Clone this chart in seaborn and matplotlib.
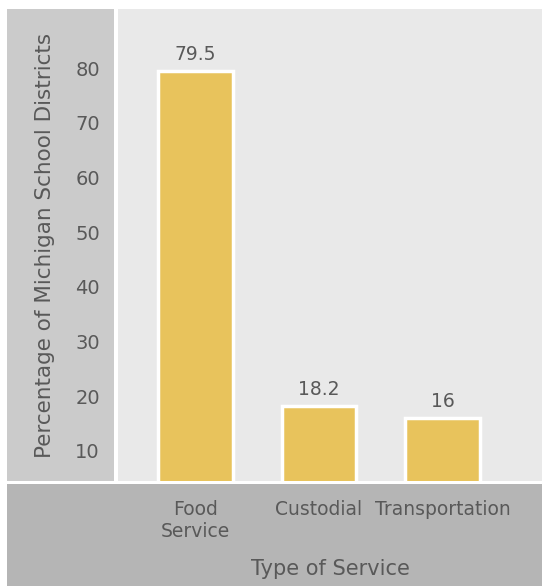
import matplotlib
matplotlib.use("Agg")
import matplotlib.pyplot as plt
from matplotlib.patches import Rectangle
import seaborn as sns
import pandas as pd

# chart data
services = ["Food\nService", "Custodial", "Transportation"]
percentages = [79.5, 18.2, 16]
value_labels = ["79.5", "18.2", "16"]
y_ticks = [10, 20, 30, 40, 50, 60, 70, 80]

df = pd.DataFrame({"service": services, "pct": percentages})

W, H = 542, 586
text_color = "#595959"
plt.rcParams["font.family"] = ["DejaVu Sans"]

fig = plt.figure(figsize=(W / 100, H / 100), dpi=100)


def box(x0, y0, x1, y1):
    # pixel box (top-left origin) -> figure fraction
    return [x0 / W, 1 - y1 / H, (x1 - x0) / W, (y1 - y0) / H]


# gray panels behind the axis labels
for (x0, y0, x1, y1), col in [((7, 9, 114, 481), "#cbcbcb"),
                              ((7, 484, 542, 586), "#b5b5b5")]:
    b = box(x0, y0, x1, y1)
    fig.patches.append(Rectangle((b[0], b[1]), b[2], b[3], transform=fig.transFigure,
                                 facecolor=col, edgecolor="none", zorder=-1))

ax = fig.add_axes(box(118, 9, 542, 481))
ax.set_facecolor("#e9e9e9")

sns.barplot(data=df, x="service", y="pct", order=services, color="#e8c35c",
            saturation=1, width=0.607, edgecolor="white", linewidth=2.5, ax=ax)

ax.bar_label(ax.containers[0], labels=value_labels, padding=5, fontsize=13.5, color=text_color)

ax.set_xlim(-0.628, 2.806)
ax.set_ylim(4.5, 90.8)
ax.set_yticks(y_ticks)
for s in ax.spines.values():
    s.set_visible(False)
ax.tick_params(axis="y", length=0, labelsize=14, labelcolor=text_color, pad=13)
ax.tick_params(axis="x", length=0, labelsize=13.5, labelcolor=text_color, pad=14)

ax.set_xlabel("Type of Service", fontsize=15, color=text_color, va="center")
ax.xaxis.set_label_coords(0.5, (481 - 569) / 472)
ax.set_ylabel("Percentage of Michigan School Districts", fontsize=15.5, color=text_color,
              va="center", ha="center")
ax.yaxis.set_label_coords((45 - 118) / 424, 0.5)

fig.savefig("out.png", dpi=100, facecolor="white")
